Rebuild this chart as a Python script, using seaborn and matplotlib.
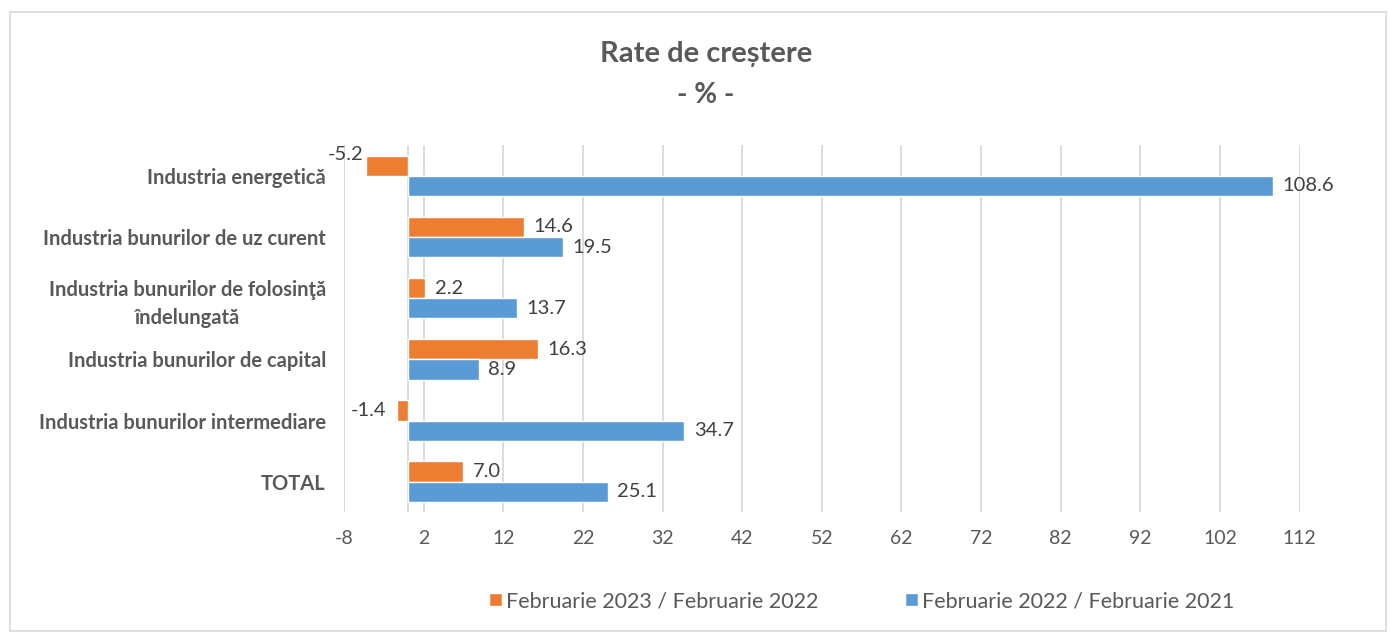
import pandas as pd
import seaborn as sns
import matplotlib.pyplot as plt
from matplotlib.patches import Rectangle

# data
categories = ["Industria energetică",
              "Industria bunurilor de uz curent",
              "Industria bunurilor de folosinţă\nîndelungată",
              "Industria bunurilor de capital",
              "Industria bunurilor intermediare",
              "TOTAL"]
series_names = ["Februarie 2023 / Februarie 2022", "Februarie 2022 / Februarie 2021"]
feb23_vs_feb22 = [-5.2, 14.6, 2.2, 16.3, -1.4, 7.0]
feb22_vs_feb21 = [108.6, 19.5, 13.7, 8.9, 34.7, 25.1]
x_ticks = [-8, 2, 12, 22, 32, 42, 52, 62, 72, 82, 92, 102, 112]

df = pd.DataFrame({
    "cat": categories * 2,
    "serie": [series_names[0]] * 6 + [series_names[1]] * 6,
    "val": feb23_vs_feb22 + feb22_vs_feb21,
})

sns.set_style("white")
plt.rcParams['font.family'] = ['Lato', 'DejaVu Sans']
plt.rcParams['axes.unicode_minus'] = False
grey = "#595959"
palette = {series_names[0]: "#ED7D31", series_names[1]: "#5B9BD5"}

fig = plt.figure(figsize=(13.9, 6.34), dpi=100)
ax = fig.add_axes([0.2475, 0.192, 0.6875, 0.579])

sns.barplot(data=df, y="cat", x="val", hue="serie", order=categories,
            hue_order=series_names, palette=palette, orient="h",
            width=0.66, saturation=1, ax=ax)

ax.set_xlim(-8, 112)
ax.set_ylim(5.5, -0.5)
ax.set_xticks(x_ticks)
ax.grid(axis="x", color="#d9d9d9", linewidth=1.3)
ax.set_axisbelow(True)
ax.axvline(0, color="#d9d9d9", linewidth=1.3, zorder=0.5)
for s in ax.spines.values():
    s.set_visible(False)
ax.set_xlabel("")
ax.set_ylabel("")
ax.tick_params(axis="x", length=0, pad=13, labelsize=14, labelcolor=grey)
ax.tick_params(axis="y", length=0, pad=13, labelsize=14.5, labelcolor=grey)
for lab in ax.get_yticklabels():
    lab.set_fontweight("bold")
    lab.set_multialignment("center")
    lab.set_linespacing(1.5)

for cont in ax.containers:
    labels = ax.bar_label(cont, fmt="%.1f", padding=7, fontsize=14.5, color="#404040")
    # the long negative bar label sits raised, as in the original
    for bar, lab in zip(cont, labels):
        if bar.get_width() < -3:
            lab.xyann = (-2, 8)

ax.legend(loc="center", bbox_to_anchor=(0.62, 0.052), bbox_transform=fig.transFigure,
          ncol=2, frameon=False, fontsize=15.5, labelcolor=grey,
          handlelength=0.6, handleheight=0.6, handletextpad=0.2, columnspacing=4.0)

fig.text(0.508, 0.915, "Rate de creștere", ha="center", va="center",
         fontsize=21, fontweight="bold", color=grey)
fig.text(0.508, 0.85, "- % -", ha="center", va="center",
         fontsize=20, fontweight="bold", color=grey)

fig.patches.append(Rectangle((0.007, 0.004), 0.99, 0.977, transform=fig.transFigure,
                             fill=False, edgecolor="#d9d9d9", linewidth=1.2))

fig.savefig("out.png", dpi=100, facecolor="white")
